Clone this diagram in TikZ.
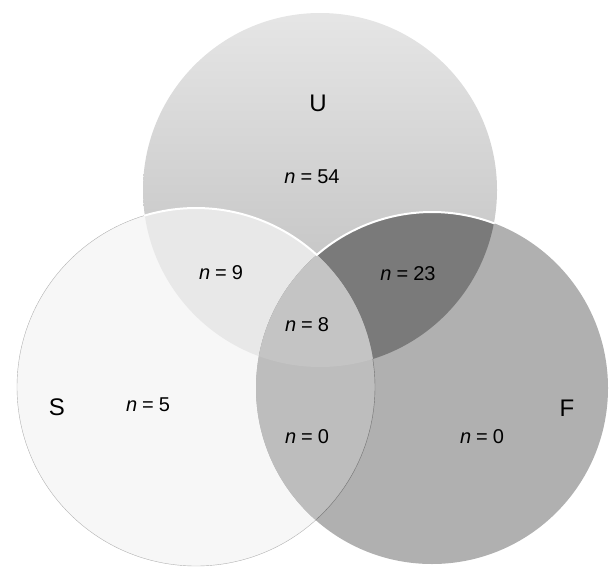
\documentclass[tikz,border=0pt]{standalone}
\usepackage{fontspec}
\setmainfont{Liberation Sans}
\newcommand\cnt[1]{\textit{n}\hspace{0.25em}=\hspace{0.25em}#1}
\begin{document}
\begin{tikzpicture}[x=1pt,y=1pt,line join=round,line cap=round]
\tikzset{every node/.style={font=\fontsize{20}{22}\selectfont},
  setname/.style={font=\fontsize{24}{26}\selectfont},
  rim/.style={white,line width=2}}
\def\rU{177} \def\rS{179} \def\rF{176}
\useasboundingbox (0,0) rectangle (609,566);
\coordinate (cu) at (320,376);
\coordinate (cs) at (196,179);
\coordinate (cf) at (432,178);
\shade[top color=black!10,bottom color=black!27] (cu) circle (\rU);
\fill[black!3] (cs) circle (\rS);
\draw[black!30,thin] (cs) circle (\rS);
\fill[black!31] (cf) circle (\rF);
\begin{scope}
	\clip (cu) circle (\rU);
	\fill[black!9] (cs) circle (\rS);
	\fill[black!52] (cf) circle (\rF);
\end{scope}
\begin{scope}
	\clip (cs) circle (\rS);
	\fill[black!26] (cf) circle (\rF);
	\clip (cu) circle (\rU);
	\fill[black!23] (cf) circle (\rF);
\end{scope}
\draw[rim] ([shift={(47.8:\rS)}]cs) arc (47.8:106.6:\rS);
\draw[rim] ([shift={(69.4:\rF)}]cf) arc (69.4:131:\rF);
\draw[black!55,thin] ([shift={(-47.8:\rS)}]cs) arc (-47.8:9:\rS);
\node[setname] (lu) at (318,463) {U};
\node[setname] (ls) at (57,159) {S};
\node[setname] (lf) at (567,158) {F};
\node (nu) at (312,389) {\cnt{54}};
\node (nus) at (221,293) {\cnt{9}};
\node (nuf) at (408,292) {\cnt{23}};
\node (nusf) at (307,241) {\cnt{8}};
\node (ns) at (148,161) {\cnt{5}};
\node (nsf) at (307,129) {\cnt{0}};
\node (nf) at (482,129) {\cnt{0}};
\end{tikzpicture}
\end{document}
